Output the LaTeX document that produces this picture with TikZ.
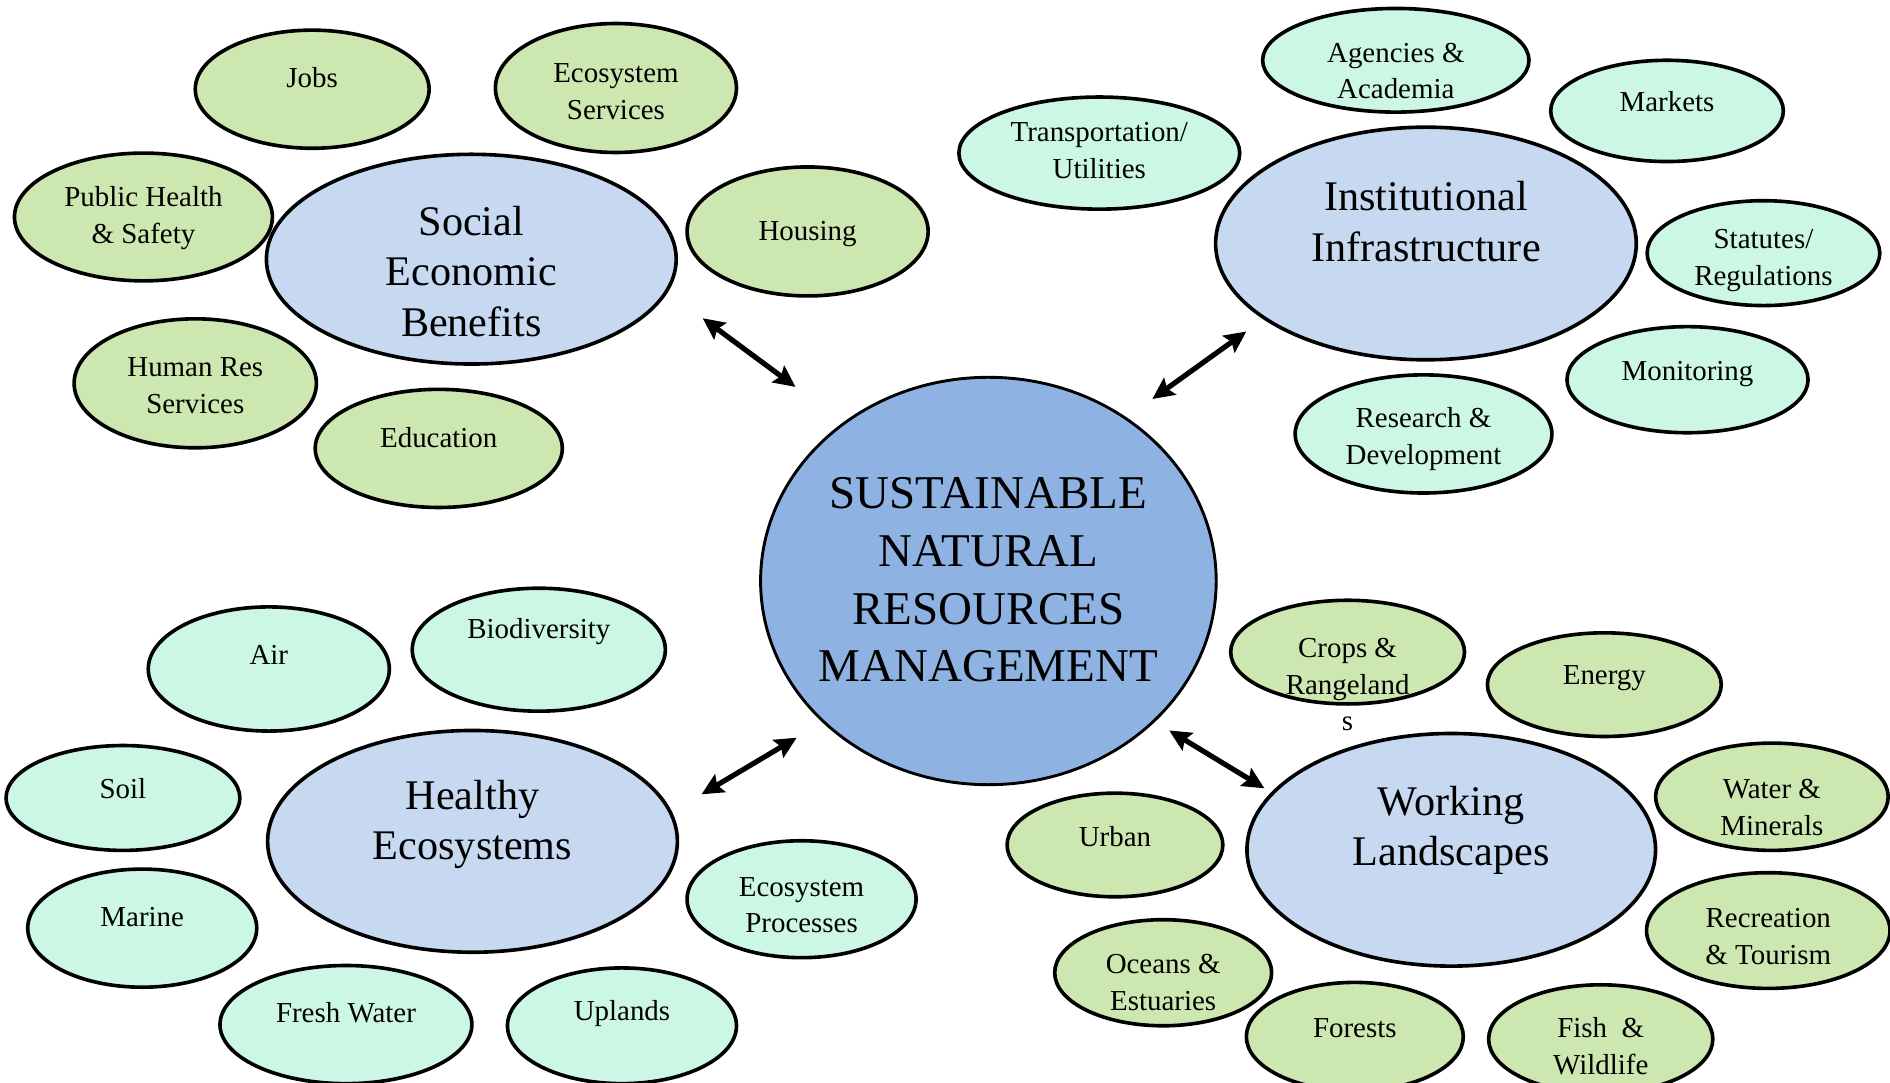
\documentclass[tikz,border=0pt]{standalone}
\usepackage{fontspec}
\setmainfont{Liberation Serif}
\usetikzlibrary{shapes.geometric,arrows.meta}
\definecolor{cgreen}{RGB}{205,231,176}
\definecolor{cmint}{RGB}{204,247,228}
\definecolor{cpale}{RGB}{198,217,241}
\definecolor{ccore}{RGB}{142,179,226}
\tikzset{
 bub/.style={ellipse, draw=black, line width=3pt, inner sep=0pt},
 gbub/.style={bub, fill=cgreen},
 mbub/.style={bub, fill=cmint},
 hub/.style={bub, fill=cpale},
 smalltxt/.style={align=center, inner sep=0pt, font=\fontsize{24}{30.5}\selectfont},
 midtxt/.style={align=center, inner sep=0pt, font=\fontsize{35}{42}\selectfont},
 coretxt/.style={align=center, inner sep=0pt, font=\fontsize{39}{48}\selectfont},
 link/.style={line width=4.3pt, {Stealth[length=18pt,width=17pt,inset=3pt]}-{Stealth[length=18pt,width=17pt,inset=3pt]}}
}
\newcommand{\Bub}[8]{%
 \node[#1, minimum width=#5pt, minimum height=#6pt] (#2) at (#3,#4) {};
 \node[smalltxt] (#2-t) at (#3,#7) {#8};}
\begin{document}
\begin{tikzpicture}[x=1pt,y=-1pt]
\useasboundingbox (0,0) rectangle (1568,898);
% Central
\node[bub, line width=2.4pt, fill=ccore, minimum width=378pt, minimum height=338pt] (core) at (820,482) {};
\node[coretxt] (core-t) at (820,481) {SUSTAINABLE\\NATURAL\\RESOURCES\\MANAGEMENT};
% Hubs
\node[hub, minimum width=340pt, minimum height=174pt] (social) at (391,215) {};
\node[midtxt] (social-t) at (391,225) {Social\\Economic\\Benefits};
\node[hub, minimum width=349pt, minimum height=193pt] (instit) at (1183,202) {};
\node[midtxt] (instit-t) at (1183,184) {Institutional\\Infrastructure};
\node[hub, minimum width=340pt, minimum height=184pt] (healthy) at (392,698) {};
\node[midtxt] (healthy-t) at (392,684) {Healthy\\Ecosystems};
\node[hub, minimum width=339pt, minimum height=193pt] (working) at (1204,705) {};
\node[midtxt] (working-t) at (1204,689) {Working\\Landscapes};
% Social group
\Bub{gbub}{jobs}{259}{74}{194}{98}{64}{Jobs}
\Bub{gbub}{ecoserv}{511}{73}{200}{107}{76}{Ecosystem\\Services}
\Bub{gbub}{health}{119}{180}{214}{106}{181}{Public Health\\\& Safety}
\Bub{gbub}{housing}{670}{192}{200}{107}{194}{Housing}
\Bub{gbub}{humanres}{162}{318}{201}{107}{320}{Human Res\\Services}
\Bub{gbub}{education}{364}{372}{205}{98}{363}{Education}
% Institutional group
\Bub{mbub}{agencies}{1158}{50}{221}{86}{59}{Agencies \&\\Academia}
\Bub{mbub}{markets}{1383}{92}{193}{84}{84}{Markets}
\Bub{mbub}{transport}{912}{127}{233}{93}{125}{Transportation/\\Utilities}
\Bub{mbub}{statutes}{1463}{210}{193}{87}{216}{Statutes/\\Regulations}
\Bub{mbub}{monitoring}{1400}{315}{200}{88}{310}{Monitoring}
\Bub{mbub}{research}{1181}{360}{213}{98}{364}{Research \&\\Development}
% Healthy group
\Bub{mbub}{air}{223}{555}{200}{103}{543}{Air}
\Bub{mbub}{biodiv}{447}{539}{210}{102}{524}{Biodiversity}
\Bub{mbub}{soil}{102}{662}{194}{87}{654}{Soil}
\Bub{mbub}{ecoproc}{665}{746}{190}{97}{751}{Ecosystem\\Processes}
\Bub{mbub}{marine}{118}{770}{190}{98}{761}{Marine}
\Bub{mbub}{freshwater}{287}{850}{209}{98}{840}{Fresh Water}
\Bub{mbub}{uplands}{516}{851}{190}{96}{841}{Uplands}
% Working group
\Bub{gbub}{crops}{1118}{541}{194}{86}{568}{Crops \&\\Rangeland\\s}
\Bub{gbub}{energy}{1331}{568}{194}{86}{563}{Energy}
\Bub{gbub}{urban}{925}{701}{179}{86}{694}{Urban}
\Bub{gbub}{water}{1470}{661}{193}{89}{670}{Water \&\\Minerals}
\Bub{gbub}{recreation}{1467}{772}{202}{96}{777}{Recreation\\\& Tourism}
\Bub{gbub}{oceans}{965}{807}{180}{88}{815}{Oceans \&\\Estuaries}
\Bub{gbub}{forests}{1124}{860}{180}{90}{853}{Forests}
\Bub{gbub}{fish}{1328}{862}{186}{90}{868}{Fish\ \ \&\\Wildlife}
% Arrow end points
\coordinate (a1s) at (583,264);
\coordinate (a1c) at (660,321);
\coordinate (a2i) at (1034,275);
\coordinate (a2c) at (956,331);
\coordinate (a3h) at (582,659);
\coordinate (a3c) at (661,612);
\coordinate (a4c) at (970,606);
\coordinate (a4w) at (1049,654);
\draw[link] (a1s) -- (a1c);
\draw[link] (a2i) -- (a2c);
\draw[link] (a3h) -- (a3c);
\draw[link] (a4c) -- (a4w);
\end{tikzpicture}
\end{document}
